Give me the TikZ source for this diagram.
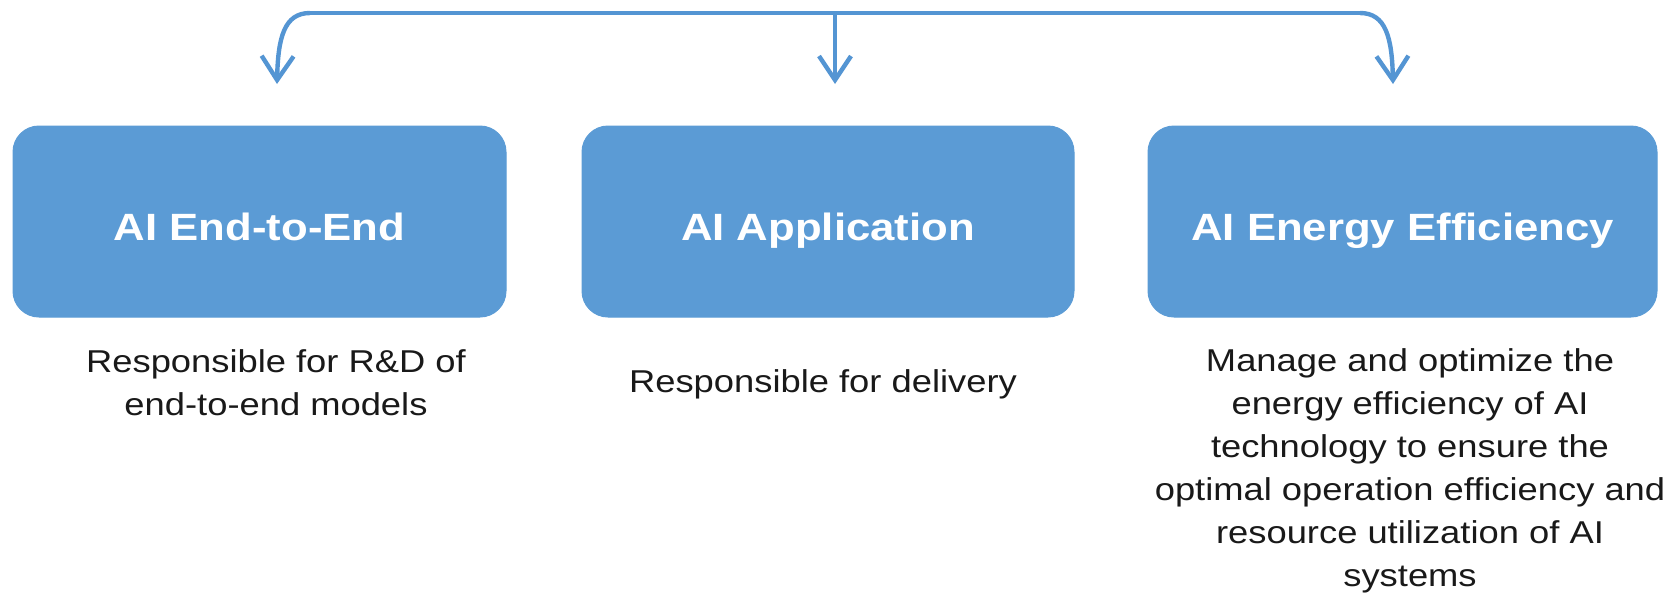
\documentclass[tikz,border=0pt]{standalone}
\usepackage{fontspec}
\setmainfont{Liberation Sans}[FakeStretch=1.15]
\usetikzlibrary{arrows.meta}
\definecolor{boxblue}{RGB}{91,155,213}
\definecolor{linkblue}{RGB}{84,149,211}
\definecolor{desctext}{RGB}{25,25,25}
\tikzset{
  unitbox/.style={draw=boxblue, fill=boxblue, rounded corners=13pt, line width=0.5pt,
    text=white, font=\fontsize{19}{23}\selectfont\bfseries, minimum height=95.5pt, inner sep=0pt,
    text height=19.3pt, text depth=0pt},
  desc/.style={text=desctext, font=\fontsize{15.8}{21.5}\selectfont, align=center, inner sep=0pt, anchor=north},
  busline/.style={draw=linkblue, line width=2.2pt},
  link/.style={draw=linkblue, line width=2.2pt, -{Straight Barb[length=12pt,width=16pt,line width=2.2pt]}},
}
\begin{document}
\begin{tikzpicture}[x=0.5pt,y=-0.5pt]
\useasboundingbox (0,0) rectangle (1673,595);
% boxes
\node[unitbox, minimum width=246.5pt] (b1) at (259.5,221.5) {AI End-to-End};
\node[unitbox, minimum width=246pt] (b2) at (828,221.5) {AI Application};
\node[unitbox, minimum width=254.5pt] (b3) at (1402.5,221.5) {AI Energy Efficiency};
% bus coordinates
\coordinate (busL) at (310,13);
\coordinate (busM) at (835,13);
\coordinate (busR) at (1360,13);
\coordinate (tipL) at (277,84);
\coordinate (tipM) at (835,84);
\coordinate (tipR) at (1393,84);
\draw[busline] (busL) -- (busR);
\draw[link] (busL) .. controls (284,13) and (278,38) .. (tipL);
\draw[link] (busM) -- (tipM);
\draw[link] (busR) .. controls (1386,13) and (1392,38) .. (tipR);
% descriptions
\node[desc] (d1) at (276,349) {Responsible for R\&D of\\end-to-end models};
\node[desc] (d2) at (823,369) {Responsible for delivery};
\node[desc] (d3) at (1410,348) {Manage and optimize the\\energy efficiency of AI\\technology to ensure the\\optimal operation efficiency and\\resource utilization of AI\\systems};
\end{tikzpicture}
\end{document}
